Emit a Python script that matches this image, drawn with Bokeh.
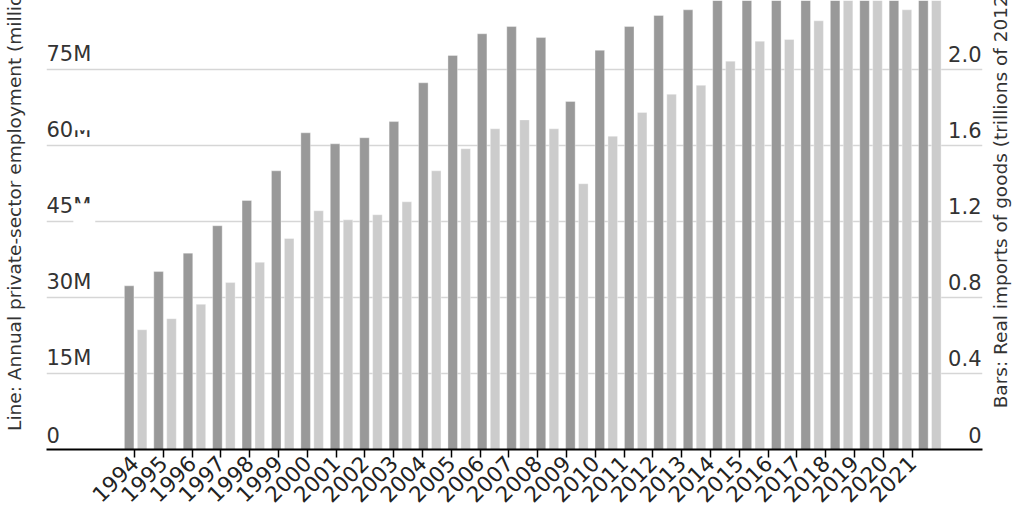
import math
from bokeh.plotting import figure
from bokeh.models import (Range1d, LinearAxis, FixedTicker, Grid, ColumnDataSource,
                          BoxAnnotation)
from bokeh.core.properties import value
from bokeh.transform import dodge
from bokeh.embed import file_html
from bokeh.resources import INLINE

# ---- data ----
years = list(range(1994, 2022))
# Bars: real imports of goods, trillions (dark and light series)
bars_dark = [0.861, 0.936, 1.033, 1.177, 1.310, 1.466, 1.666, 1.608, 1.640, 1.725,
             1.929, 2.073, 2.187, 2.225, 2.167, 1.831, 2.100, 2.225, 2.283, 2.313,
             2.40, 2.48, 2.47, 2.56, 2.68, 2.65, 2.55, 2.90]
bars_light = [0.630, 0.688, 0.764, 0.878, 0.985, 1.110, 1.256, 1.208, 1.235, 1.303,
              1.466, 1.582, 1.687, 1.734, 1.687, 1.398, 1.648, 1.773, 1.869, 1.916,
              2.043, 2.148, 2.157, 2.255, 2.40, 2.38, 2.313, 2.62]
left_ticks = [0, 15, 30, 45, 60, 75]
left_labels = ["0", "15M", "30M", "45M", "60M", "75M"]
right_ticks = [0, 0.4, 0.8, 1.2, 1.6, 2.0]
right_labels = ["0", "0.4", "0.8", "1.2", "1.6", "2.0"]
left_title = "Line: Annual private-sector employment (millions)"
right_title = "Bars: Real imports of goods (trillions of 2012 dollars)"

FONT = "DejaVu Sans"
TXT = "#333333"
NB = "\u00a0"

# layout (pixels)
W, H = 1024, 512
B_LEFT, B_RIGHT, B_TOP, B_BOTTOM = 44, 40, 0, 63
FRAME_H = H - B_TOP - B_BOTTOM
LABEL_LIFT = 15    # px from gridline to label anchor (labels drawn centred on anchor)

# ranges
bar_x_start, bar_x_end = 1990.970, 2022.79
tick_x_start, tick_x_end = 1990.948, 2023.44
y_end = 2.362
emp_per_trillion = 75 / 2.0
emp_end = y_end * emp_per_trillion

p = figure(width=W, height=H, output_backend="svg", toolbar_location=None,
           x_range=Range1d(bar_x_start, bar_x_end), y_range=Range1d(0, y_end),
           x_axis_location=None, y_axis_location=None,
           min_border_left=B_LEFT, min_border_right=B_RIGHT,
           min_border_top=B_TOP, min_border_bottom=B_BOTTOM)
p.extra_x_ranges = {"ticks": Range1d(tick_x_start, tick_x_end)}
p.extra_y_ranges = {"emp": Range1d(0, emp_end)}
p.outline_line_color = None
p.background_fill_color = "white"
p.border_fill_color = "white"
for g in list(p.xgrid) + list(p.ygrid):
    g.visible = False

grid = Grid(dimension=1, ticker=FixedTicker(ticks=right_ticks),
            grid_line_color="#d6d6d6", grid_line_width=1.6)
p.add_layout(grid)

src = ColumnDataSource(dict(year=years, dark=bars_dark, light=bars_light))
bw = 0.325
p.vbar(x=dodge("year", -0.22, range=p.x_range), top="dark", width=bw, source=src,
       fill_color="#999999", line_color="white", line_alpha=0.35, line_width=1)
p.vbar(x=dodge("year", 0.22, range=p.x_range), top="light", width=bw, source=src,
       fill_color="#cccccc", line_color="white", line_alpha=0.35, line_width=1)

# bottom axis with year ticks (line-chart time scale)
xaxis = LinearAxis(x_range_name="ticks", ticker=FixedTicker(ticks=years),
                   major_label_overrides={y: str(y) for y in years},
                   major_label_orientation=math.pi / 4,
                   major_label_text_font=FONT, major_label_text_font_size="21.5px",
                   major_label_text_color="#222222", major_label_standoff=2,
                   major_tick_out=8, major_tick_in=0,
                   major_tick_line_width=1.5, major_tick_line_color="black",
                   minor_tick_line_color=None, axis_line_color="black",
                   axis_line_width=2)
p.add_layout(xaxis, "below")

# axis titles carried by otherwise empty side axes
has_align = "axis_label_align" in LinearAxis.properties()
left_axis = LinearAxis(y_range_name="emp", ticker=FixedTicker(ticks=[]),
                       axis_label=NB * 9 + left_title,
                       axis_label_text_font=FONT, axis_label_text_font_size="18.5px",
                       axis_label_text_font_style="normal", axis_label_text_color=TXT,
                       axis_label_standoff=22, axis_line_color=None,
                       major_tick_out=0, major_tick_in=0, minor_tick_line_color=None)
right_axis = LinearAxis(ticker=FixedTicker(ticks=[]),
                        axis_label=NB * 7 + right_title,
                        axis_label_text_font=FONT, axis_label_text_font_size="18.5px",
                        axis_label_text_font_style="normal", axis_label_text_color=TXT,
                        axis_label_standoff=18, axis_label_orientation=math.pi / 2,
                        axis_line_color=None,
                        major_tick_out=0, major_tick_in=0, minor_tick_line_color=None)
if has_align:
    right_axis.axis_label_align = "start"
p.add_layout(left_axis, "left")
p.add_layout(right_axis, "right")

# tick labels inside the frame, sitting just above their gridlines
px_per_emp = FRAME_H / emp_end
px_per_trn = FRAME_H / y_end
left_src = ColumnDataSource(dict(x=[bar_x_start] * len(left_ticks),
                                 y=[t + LABEL_LIFT / px_per_emp for t in left_ticks],
                                 t=left_labels))
p.text(x="x", y="y", text="t", source=left_src, y_range_name="emp",
       text_align="left", text_baseline="middle",
       text_font=value(FONT), text_font_size="21px", text_color=TXT)
right_src = ColumnDataSource(dict(x=[bar_x_end] * len(right_ticks),
                                  y=[t + LABEL_LIFT / px_per_trn for t in right_ticks],
                                  t=right_labels))
p.text(x="x", y="y", text="t", source=right_src,
       text_align="right", text_baseline="middle", x_offset=-1,
       text_font=value(FONT), text_font_size="21px", text_color=TXT)

# white masks seen over the 60M / 45M labels
for bottom, top in [(63.0, 65.5), (44.6, 48.6)]:
    p.add_layout(BoxAnnotation(left=1991.88, right=1992.64, bottom=bottom, top=top,
                               x_range_name="ticks", y_range_name="emp",
                               fill_color="white", fill_alpha=1.0, line_color=None))

open("out.html", "w").write(file_html(p, INLINE))
